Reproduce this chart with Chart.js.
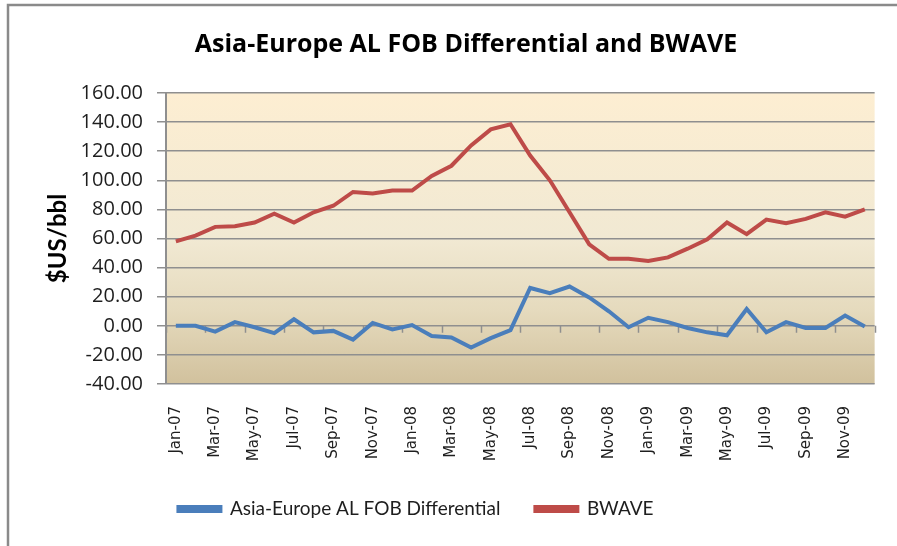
<!DOCTYPE html>
<html>
<head>
<meta charset="utf-8">
<script src="https://cdn.jsdelivr.net/npm/chart.js@4.4.1/dist/chart.umd.min.js"></script>
<style>
  html, body { margin: 0; padding: 0; background: #fff; }
  #wrap { position: relative; width: 897px; height: 546px; }
</style>
</head>
<body>
<div id="wrap"><canvas id="chart" width="897" height="546"></canvas></div>
<script>
const months = [
  'Jan-07', 'Feb-07', 'Mar-07', 'Apr-07', 'May-07', 'Jun-07', 'Jul-07', 'Aug-07', 'Sep-07', 'Oct-07', 'Nov-07', 'Dec-07',
  'Jan-08', 'Feb-08', 'Mar-08', 'Apr-08', 'May-08', 'Jun-08', 'Jul-08', 'Aug-08', 'Sep-08', 'Oct-08', 'Nov-08', 'Dec-08',
  'Jan-09', 'Feb-09', 'Mar-09', 'Apr-09', 'May-09', 'Jun-09', 'Jul-09', 'Aug-09', 'Sep-09', 'Oct-09', 'Nov-09', 'Dec-09'
];

const differential = [
  0, 0, -4, 2.5, -1, -5, 4.5, -4.5, -3.5, -9.5, 2, -2.5,
  0.5, -7, -8, -15, -8.5, -3, 26, 22.5, 27, 19.5, 10, -1,
  5.5, 2.5, -1.5, -4.5, -6.5, 11.5, -4.5, 2.5, -1.5, -1.5, 7, -0.5
];

const bwave = [
  58, 62, 68, 68.5, 71, 77, 71, 78, 82.5, 92, 91, 93,
  93, 103, 110, 124, 135, 138.5, 117, 100, 78, 56, 46, 46,
  44.5, 47, 53, 59.5, 71, 63, 73, 70.5, 73.5, 78, 75, 80
];

const yMin = -40, yMax = 160, yStep = 20;

const gridGrey = '#8f8f8f';
const textColor = '#1e1e1e';
const plotBottom = 384;
const legendCenter = 509;
const legendPad = 35;
const legendFont = 19;

// plot background, outer frame and the category tick marks on the zero line
const decor = {
  id: 'decor',
  beforeDraw(chart) {
    const { ctx, chartArea: a } = chart;
    ctx.save();
    const g = ctx.createLinearGradient(0, a.top, 0, a.bottom);
    g.addColorStop(0, '#fdeed2');
    g.addColorStop(0.5, '#f1e9d3');
    g.addColorStop(0.75, '#e5dabd');
    g.addColorStop(1, '#d1c19d');
    ctx.fillStyle = g;
    ctx.fillRect(a.left, a.top, a.right - a.left, a.bottom - a.top);
    ctx.strokeStyle = '#8a8a8a';
    ctx.lineWidth = 2.5;
    ctx.beginPath();
    ctx.moveTo(8, chart.height + 5);
    ctx.lineTo(8, 5);
    ctx.lineTo(chart.width + 5, 5);
    ctx.stroke();
    ctx.restore();
  },
  beforeDatasetsDraw(chart) {
    const { ctx, scales: { x, y } } = chart;
    const y0 = y.getPixelForValue(0);
    const half = (x.getPixelForValue(1) - x.getPixelForValue(0)) / 2;
    ctx.save();
    ctx.strokeStyle = gridGrey;
    ctx.lineWidth = 1.5;
    ctx.beginPath();
    for (let i = 0; i <= months.length; i += 2) {
      const px = Math.round(x.getPixelForValue(i) - half) + 0.5;
      ctx.moveTo(px, y0);
      ctx.lineTo(px, y0 + 7);
    }
    ctx.stroke();
    ctx.restore();
  },
  afterLayout(chart) {
    // Excel puts the legend a bit left of centre and the title a bit right
    const lg = chart.legend;
    const h = lg.bottom - lg.top;
    lg.left -= 25;
    lg.right -= 25;
    lg.top = legendCenter - legendPad - legendFont / 2;
    lg.bottom = lg.top + h;
    chart.titleBlock.left += 25;
    chart.titleBlock.right += 25;
  }
};

new Chart(document.getElementById('chart'), {
  type: 'line',
  data: {
    labels: months,
    datasets: [
      {
        label: 'Asia-Europe AL FOB Differential',
        data: differential,
        borderColor: '#4a7ebb',
        backgroundColor: '#4a7ebb',
        borderWidth: 4,
        pointRadius: 0,
        tension: 0
      },
      {
        label: 'BWAVE',
        data: bwave,
        borderColor: '#be4b48',
        backgroundColor: '#be4b48',
        borderWidth: 4,
        pointRadius: 0,
        tension: 0
      }
    ]
  },
  options: {
    responsive: false,
    animation: false,
    events: [],
    layout: { padding: { left: 0, right: 15, top: 0, bottom: 4 } },
    plugins: {
      title: {
        display: true,
        text: 'Asia-Europe AL FOB Differential and BWAVE',
        color: '#000',
        font: { family: 'Open Sans', size: 25, weight: 'bold' },
        padding: { top: 30, bottom: 33 }
      },
      legend: {
        position: 'bottom',
        labels: {
          boxWidth: 42,
          boxHeight: 4,
          padding: legendPad,
          color: textColor,
          font: { family: 'Lato', size: legendFont }
        }
      },
      tooltip: { enabled: false }
    },
    scales: {
      x: {
        offset: true,
        grid: { display: false },
        border: { display: false },
        ticks: {
          autoSkip: false,
          minRotation: 90,
          maxRotation: 90,
          padding: 14,
          color: textColor,
          font: { family: 'DejaVu Sans', size: 15 },
          callback: (v, i) => (i % 2 === 0 ? months[i] : '')
        },
        afterFit: (s) => {
          s.height = s.chart.height - plotBottom - s.chart.legend.height - 4;
        }
      },
      y: {
        min: yMin,
        max: yMax,
        grid: {
          color: gridGrey,
          lineWidth: 1.5,
          tickLength: 9,
          tickColor: gridGrey
        },
        border: { color: gridGrey, width: 2 },
        ticks: {
          stepSize: yStep,
          padding: 14,
          color: textColor,
          font: { family: 'Open Sans', size: 20 },
          callback: (v) => v.toFixed(2)
        },
        title: {
          display: true,
          text: '$US/bbl',
          color: '#000',
          font: { family: 'Lato', size: 24, weight: 'bold' },
          padding: { top: 44, bottom: 0 }
        },
        afterFit: (s) => { s.width = 166; }
      }
    }
  },
  plugins: [decor]
});
</script>
</body>
</html>
